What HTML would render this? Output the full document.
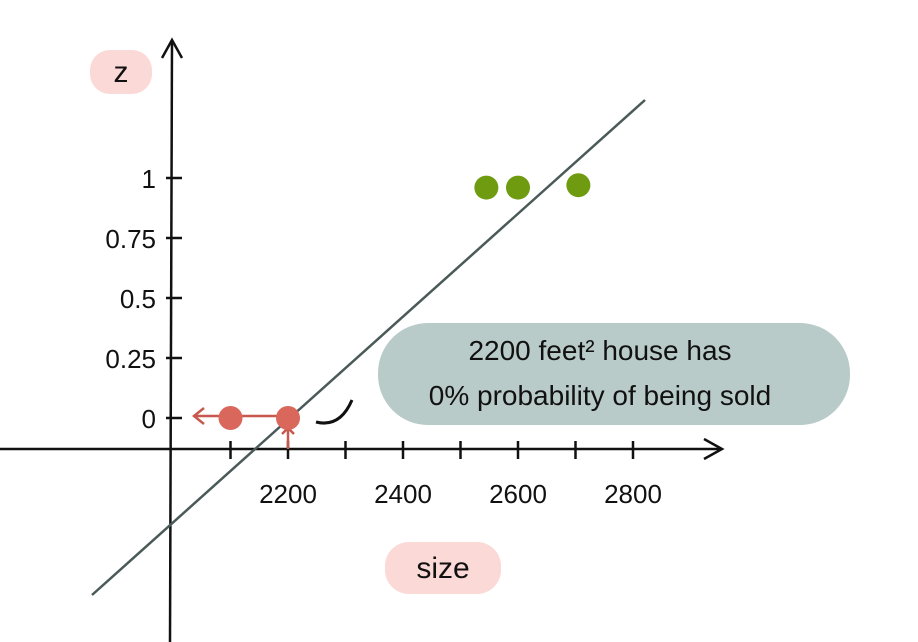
<!DOCTYPE html>
<html><head><meta charset="utf-8"><style>
body{margin:0;background:#fff}
svg{display:block}
text{font-family:"Liberation Sans",sans-serif;fill:#111}
</style></head><body>
<svg id="chart" width="918" height="642" viewBox="0 0 918 642">
<rect width="918" height="642" fill="#fff"/>
<rect x="90" y="50" width="62" height="44" rx="20" fill="#fbd9d6"/>
<text x="121" y="82" font-size="30" text-anchor="middle">z</text>
<rect x="385" y="542" width="116" height="52" rx="24" fill="#fbd9d6"/>
<text x="443" y="578" font-size="30" text-anchor="middle">size</text>
<rect x="378" y="323" width="472" height="102" rx="50" fill="#b9cbc9"/>
<text x="600" y="360" font-size="28" text-anchor="middle">2200 feet² house has</text>
<text x="600" y="405" font-size="28" text-anchor="middle">0% probability of being sold</text>
<path d="M316 422 Q340 428 352 400" fill="none" stroke="#111" stroke-width="3"/>
<g id="axes" stroke="#111" stroke-width="2.5" fill="none">
<line x1="172" y1="40" x2="170" y2="642"/>
<path d="M162 58 L172 40 L182 58"/>
<line x1="0" y1="449" x2="722" y2="449"/>
<path d="M704 439 L722 449 L704 459"/>
</g>
<g id="ticks"></g>
<line x1="92" y1="595" x2="645" y2="100" stroke="#4a5a58" stroke-width="2.5"/>
<g id="marks"></g>
</svg>
<script>
const yTicks=[0,0.25,0.5,0.75,1];
const yTickLabels=["0","0.25","0.5","0.75","1"];
const xTicks=[2100,2200,2300,2400,2500,2600,2700,2800];
const xTickLabels=["","2200","","2400","","2600","","2800"];
const redX=[2100,2200];
const redZ=[0,0];
const greenX=[2545,2600,2705];
const greenZ=[0.96,0.96,0.97];
const NS="http://www.w3.org/2000/svg";
function sx(v){return 288+(v-2200)*0.575;}
function sy(v){return 418-v*240;}
const ticks=document.getElementById('ticks');
const marks=document.getElementById('marks');
function mk(tag,attrs,parent){const e=document.createElementNS(NS,tag);for(const k in attrs)e.setAttribute(k,attrs[k]);parent.appendChild(e);return e;}
yTicks.forEach((v,i)=>{
 const l=mk('line',{x1:166,x2:182,y1:sy(v),y2:sy(v),stroke:'#111','stroke-width':2.5},ticks);
 
 
 const t=mk('text',{x:156,y:sy(v)+10,'font-size':26,'text-anchor':'end'},ticks);
 t.textContent=yTickLabels[i];
 
 
});
xTicks.forEach((v,i)=>{
 const l=mk('line',{x1:sx(v),x2:sx(v),y1:441,y2:459,stroke:'#111','stroke-width':2.5},ticks);
 
 
 if(xTickLabels[i]){
 const t=mk('text',{x:sx(v),y:503,'font-size':26,'text-anchor':'middle'},ticks);
 t.textContent=xTickLabels[i];
 
 }
});
const arr=mk('path',{d:`M${sx(2200)} 416 L194 416 M204 408 L194 416 L204 424 M${sx(2200)} 449 L${sx(2200)} 428 M${sx(2200)-6} 434 L${sx(2200)} 428 L${sx(2200)+6} 434`,stroke:'#c8584e','stroke-width':2.5,fill:'none'},marks);


redX.forEach((v,i)=>{
 const c=mk('circle',{cx:sx(v),cy:sy(redZ[i]),r:12,fill:'#d9675c'},marks);
 
 
});
greenX.forEach((v,i)=>{
 const c=mk('circle',{cx:sx(v),cy:sy(greenZ[i]),r:12,fill:'#6f9b10'},marks);
 
 
});
</script>
</body></html>
